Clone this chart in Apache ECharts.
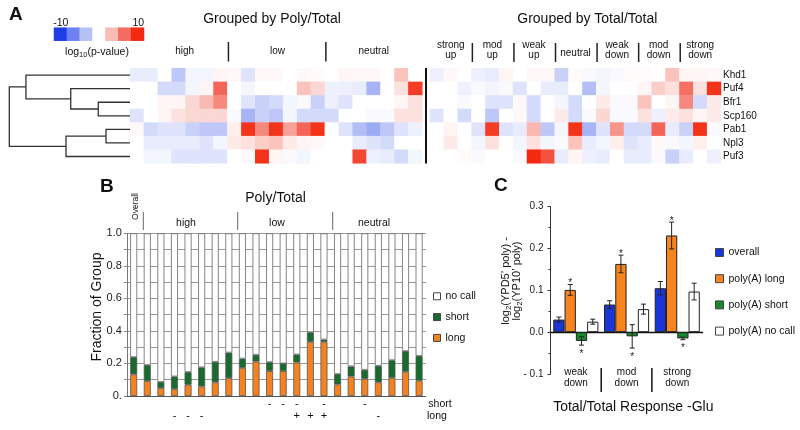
<!DOCTYPE html>
<html>
<head>
<meta charset="utf-8">
<script src="https://cdn.jsdelivr.net/npm/echarts@6/dist/echarts.min.js"></script>
<style>
html,body{margin:0;padding:0;background:#ffffff;}
#chart{width:800px;height:430px;}
</style>
</head>
<body>
<div id="chart"></div>
<script>
// ================= DATA =================
// ---- Panel A: log10(p-value) heatmap ----
const proteins = ['Khd1','Puf4','Bfr1','Scp160','Pab1','Npl3','Puf3'];
const polyGroupLabels = ['high','low','neutral'];
const totalGroupLabels = ['strong\nup','mod\nup','weak\nup','neutral','weak\ndown','mod\ndown','strong\ndown'];
// per protein: 21 "Grouped by Poly/Total" columns, then 21 "Grouped by Total/Total" columns
const khd1   = [-1,-1,0,-3,-0.5,-0.5,0.5,0.3,-1.5,0.3, 0.3,0,0.3,0.2,0,0.5,0.3,0.3,0,3, 0,
                -0.8,0.3,0,-0.8,-1,0.5,0,0.3,0.3,-2.5, 0.2,-0.3,-0.5,-0.3,0.2,0.2,0,3,0.5,0.5, 0.3];
const puf4   = [0,0,-2,-2,-0.5,0.5,7,0,-0.5,0, 0,0,3,2,-0.8,-0.8,-1,-4,0,1.5, 9,
                0,0,-0.8,-0.3,-0.5,-0.3,-1.5,0,-1,-1, 0,-3.5,-0.5,0,0,0.5,2.5,1.5,6.5,1.5, 9.5];
const bfr1   = [0,0,0.5,0.5,2,3.5,5.5,0,-1.5,-2.5, -2,-0.5,-0.3,-2.5,-0.8,-1.5,0,0,0,0.5, 1.5,
                0,0,-0.3,0,-1.5,-1.5,0.3,-2,0,-0.5, -2,0,1,-0.3,-0.3,3,0,0.5,5.5,-2, 1];
const scp160 = [-1.5,0,0.5,1.5,2,2,2,-0.3,-4,-2.5, -3,-0.5,-2,-2,-2,0,0,-0.3,-0.3,1.5, 1.5,
                -1.5,0,-2,0,-3,0,0.3,-2,0,1, -2,-0.3,2,-0.3,-0.3,1.5,-0.8,1,1.5,0.5, 1];
const pab1   = [0.3,-2,-1.5,-1.5,-2.5,-3,-3,0.8,9.5,5.5, 9.5,4.5,7,9.5,0,-1.5,-3.5,-4.5,-3,-1.5, -0.8,
                0,0.5,0,-1.5,9,-1.5,-1,3.5,-3,-0.5, 9.5,-4,-1.5,5,-2,-2,7,-1,-2.5,9.5, -0.3];
const npl3   = [0,-1,-1,-1,-1,-1.5,-0.5,1,1.5,2.5, 3,1,0.5,0.3,0,0,-1,-1.5,-2,0, 0,
                0,1,0,-0.5,1.5,0,-0.5,1.5,-0.5,-0.3, 3,-1,-0.5,0.8,-1.5,-1,0.3,-0.3,-0.5,0.8, 0];
const puf3   = [0,-0.5,-0.5,-1.5,-1.5,-1.5,-1.5,0,-0.3,9.5, 0.5,-0.3,-0.5,0,0,0,8.5,-0.8,-1,-2, -0.5,
                0,0,0.2,-0.3,0,0,-0.3,10,8,-1, 0.5,-0.8,-1,0,-1,-1,-0.3,-2.5,-1,0, -0.8];
const colorSteps = [-10,-6.67,-3.33,0,3.33,6.67,10];
const colorStepLabels = ['-10','10'];
// dendrogram linkage: [childA, childB, height]  (leaves 0..6, merged nodes 7..)
const dendroLinkage = [[2,3,0.263],[1,7,0.491],[0,8,0.862],[4,5,0.199],[10,6,0.53],[9,11,1.0]];

// ---- Panel B: fraction of group ----
const barGroupsB = ['Overall','high 1','high 2','high 3','high 4','high 5','high 6','high 7',
                    'low 1','low 2','low 3','low 4','low 5','low 6','low 7',
                    'neutral 1','neutral 2','neutral 3','neutral 4','neutral 5','neutral 6','neutral 7'];
const longFrac   = [0.133,0.092,0.049,0.043,0.069,0.059,0.084,0.110,0.173,0.212,0.153,0.153,0.206,0.333,0.333,0.071,0.120,0.106,0.084,0.112,0.149,0.094];
const shortFrac  = [0.106,0.098,0.037,0.077,0.078,0.117,0.126,0.157,0.057,0.041,0.055,0.047,0.049,0.059,0.014,0.064,0.062,0.055,0.102,0.108,0.127,0.153];
const noCallFrac = [0.761,0.810,0.914,0.880,0.853,0.824,0.790,0.733,0.770,0.747,0.792,0.800,0.745,0.608,0.653,0.865,0.818,0.839,0.814,0.780,0.724,0.753];
const shortSigns = ['','','','','','','','','','','-','-','-','','-','','','-','','','',''];
const longSigns  = ['','','','-','-','-','','','','','','','+','+','+','','','','-','','',''];
const yTicksB = [0,0.2,0.4,0.6,0.8,1.0];

// ---- Panel C: log2 ratio by Total/Total response ----
const responseGroups = ['weak\ndown','mod\ndown','strong\ndown'];
const overallVal   = [0.030,0.066,0.105];  const overallErr   = [0.006,0.009,0.016];
const polyLongVal  = [0.101,0.163,0.231];  const polyLongErr  = [0.013,0.021,0.032];
const polyShortVal = [-0.021,-0.010,-0.015]; const polyShortErr = [0.010,0.028,0.003];
const polyNoCallVal= [0.025,0.055,0.097];  const polyNoCallErr= [0.006,0.012,0.020];
const overallSig = [0,0,0], polyLongSig = [1,1,1], polyShortSig = [1,1,1], polyNoCallSig = [0,0,0];

// ================= LAYOUT / STYLE =================
const FONT = 'Liberation Sans, Arial, Helvetica, sans-serif';
const HM_TOP = 68.3, HM_H = 95;
const HL = {left:130, width:292.3}, HR = {left:430, width:291};
const GB = {left:126.9, top:233.3, width:299, height:162.7};
const GC = {left:550.5, top:206.6, width:152.1, height:167.4};
const heatColors = ['#1f3de6','#6c82f0','#b7c1f6','#ffffff','#f9bdb6','#f46c5f','#f4290f'];
const cOrangeB = '#f5821f', cGreenB = '#166b2d';
const cBlue = '#1b36d8', cOrange = '#f7841f', cGreen = '#17892b';

const rows = [khd1,puf4,bfr1,scp160,pab1,npl3,puf3];
const cols21 = Array.from({length:21},(_,i)=>String(i));
function hmData(side){
  const out=[];
  rows.forEach((row,r)=>{ for(let c=0;c<21;c++) out.push([c,r,row[side*21+c]]); });
  return out;
}
function dendroItems(){
  const pos = proteins.map((_,i)=>i), hts = proteins.map(()=>0), items=[];
  dendroLinkage.forEach(([a,b,h])=>{
    items.push([h,pos[a],pos[b],hts[a],hts[b]]);
    pos.push((pos[a]+pos[b])/2); hts.push(h);
  });
  return items;
}
const cSeriesDefs = [
  {name:'overall', vals:overallVal, errs:overallErr, sig:overallSig, color:cBlue},
  {name:'poly(A) long', vals:polyLongVal, errs:polyLongErr, sig:polyLongSig, color:cOrange},
  {name:'poly(A) short', vals:polyShortVal, errs:polyShortErr, sig:polyShortSig, color:cGreen},
  {name:'poly(A) no call', vals:polyNoCallVal, errs:polyNoCallErr, sig:polyNoCallSig, color:'#ffffff'}
];
const errData = [];
cSeriesDefs.forEach((s,k)=>s.vals.forEach((v,i)=>errData.push([i,k,v,s.errs[i],s.sig[i]])));

function txt(x,y,text,o){
  o=o||{};
  return {type:'text', x:x, y:y, rotation:o.rot||0, silent:true,
    style:{text:text, fill:o.color||'#111', fontSize:o.size||10, fontFamily:FONT,
      fontWeight:o.weight||'normal', align:o.align||'center', verticalAlign:o.va||'middle',
      lineHeight:o.lh, rich:o.rich}};
}
function ln(x1,y1,x2,y2,c,w){
  return {type:'line', silent:true, shape:{x1,y1,x2,y2}, style:{stroke:c||'#111', lineWidth:w||1}};
}

const graphics = [];
// panel letters
graphics.push(txt(9,5.5,'A',{size:19,weight:'bold',align:'left',va:'top'}));
graphics.push(txt(100,177.5,'B',{size:19,weight:'bold',align:'left',va:'top'}));
graphics.push(txt(494,176.5,'C',{size:19,weight:'bold',align:'left',va:'top'}));
// panel A titles
graphics.push(txt(272,19,'Grouped by Poly/Total',{size:14}));
graphics.push(txt(587.3,19,'Grouped by Total/Total',{size:14}));
// color legend labels
graphics.push(txt(60.8,22.7,colorStepLabels[0],{size:10.5}));
graphics.push(txt(138.3,22.7,colorStepLabels[1],{size:10.5}));
graphics.push(txt(97,52.5,'{a|log}{s|10}{a|(p-value)}',{rich:{
  a:{fontSize:10.5,fontFamily:FONT,fill:'#111'}, s:{fontSize:7.5,fontFamily:FONT,fill:'#111',padding:[5,0,0,0]}}}));
// left heatmap groups
const lcw = HL.width/21;
const polyLabelX = [184.7,277.5,373.8];
polyGroupLabels.forEach((g,i)=>graphics.push(txt(polyLabelX[i],51.7,g,{size:10})));
[1,2].forEach(k=>graphics.push(ln(HL.left+lcw*7*k+1,42,HL.left+lcw*7*k+1,61.5,'#222',1.5)));
// right heatmap groups
const rgw = HR.width/7;
totalGroupLabels.forEach((g,i)=>{
  const two = g.indexOf('\n')>=0;
  graphics.push(txt(HR.left+rgw*(i+0.5), two?50.4:53, g, {size:10, lh:9.5}));
});
for(let k=1;k<7;k++) graphics.push(ln(HR.left+rgw*k+0.8,43,HR.left+rgw*k+0.8,62,'#222',1.5));
// separator between heatmaps
graphics.push(ln(426,68,426,163.5,'#111',2));

// panel B annotations
graphics.push(txt(275.5,198.3,'Poly/Total',{size:14}));
graphics.push(txt(136,206.5,'Overall',{size:8.5,rot:Math.PI/2}));
const bGroupX = [186,277,374];
['high','low','neutral'].forEach((g,i)=>graphics.push(txt(bGroupX[i],223,g,{size:10.5})));
[143.3,237.7,332.7].forEach(x=>graphics.push(ln(x,212,x,230,'#666',1)));
graphics.push(txt(97,307,'Fraction of Group',{size:14,rot:Math.PI/2}));
graphics.push(txt(428.3,403.7,'short',{size:10.5,align:'left'}));
graphics.push(txt(427,416,'long',{size:10.5,align:'left'}));

// panel C annotations
graphics.push(txt(633.3,407,'Total/Total Response -Glu',{size:14}));
const rc = {a:{fontSize:11,fontFamily:FONT,fill:'#111'}, s:{fontSize:8,fontFamily:FONT,fill:'#111',padding:[5,0,0,0]}};
graphics.push(txt(511.7,281,"{a|log}{s|2}{a|(YPD5’ poly) -}\n{a|log}{s|2}{a|(YP10’ poly)}",{rot:Math.PI/2,lh:10.5,rich:rc}));
const ccw = GC.width/3;
[1,2].forEach(k=>graphics.push(ln(GC.left+ccw*k,368,GC.left+ccw*k,392,'#111',1.5)));

// ================= OPTION =================
const chart = echarts.init(document.getElementById('chart'), null, {renderer:'canvas', width:800, height:430});
const noBounds = {outerBoundsMode:'none'};
const option = {
  animation:false,
  backgroundColor:'#ffffff',
  textStyle:{fontFamily:FONT},
  grid:[
    Object.assign({left:HL.left, top:HM_TOP, width:HL.width, height:HM_H}, noBounds),
    Object.assign({left:HR.left, top:HM_TOP, width:HR.width, height:HM_H}, noBounds),
    Object.assign({left:9.3, top:HM_TOP, width:120.7, height:HM_H}, noBounds),
    Object.assign({left:54, top:27.7, width:90, height:13}, noBounds),
    Object.assign({left:GB.left, top:GB.top, width:GB.width, height:GB.height}, noBounds),
    Object.assign({left:GC.left, top:GC.top, width:GC.width, height:GC.height}, noBounds)
  ],
  visualMap:{type:'continuous', show:false, min:-10, max:10, dimension:2, seriesIndex:[0,1,2],
    inRange:{color:heatColors}},
  legend:[
    {data:[{name:'no call'},{name:'short'},{name:'long'}], orient:'vertical', left:433, top:290.8,
     itemWidth:7, itemHeight:7, itemGap:9.8, padding:0, icon:'rect', selectedMode:false,
     itemStyle:{borderColor:'#444', borderWidth:1},
     textStyle:{fontSize:10.5, color:'#111', fontFamily:FONT}},
    {data:cSeriesDefs.map(s=>({name:s.name})), orient:'vertical', left:715, top:247,
     itemWidth:8, itemHeight:8, itemGap:15.2, padding:0, icon:'rect', selectedMode:false,
     itemStyle:{borderColor:'#444', borderWidth:1},
     textStyle:{fontSize:10.5, color:'#111', fontFamily:FONT}}
  ],
  xAxis:[
    {gridIndex:0, type:'category', data:cols21, show:false},
    {gridIndex:1, type:'category', data:cols21, show:false},
    {gridIndex:2, type:'value', min:0, max:1, inverse:true, show:false},
    {gridIndex:3, type:'category', data:colorSteps.map(String), show:false},
    {gridIndex:4, type:'category', data:barGroupsB, axisLine:{lineStyle:{color:'#555'}},
     axisTick:{show:false}, axisLabel:{show:false}},
    {gridIndex:4, type:'category', data:barGroupsB, position:'bottom',
     axisLine:{show:false,onZero:false}, axisTick:{show:false},
     axisLabel:{interval:0, formatter:(v,i)=>shortSigns[i], margin:8, verticalAlign:'middle', fontSize:11, color:'#111'}},
    {gridIndex:4, type:'category', data:barGroupsB, position:'bottom',
     axisLine:{show:false,onZero:false}, axisTick:{show:false},
     axisLabel:{interval:0, formatter:(v,i)=>longSigns[i], margin:20, verticalAlign:'middle', fontSize:11, color:'#111'}},
    {gridIndex:5, type:'category', data:responseGroups,
     axisLine:{onZero:true, lineStyle:{color:'#111', width:1.3}}, axisTick:{show:false}, axisLabel:{show:false}},
    {gridIndex:5, type:'category', data:responseGroups, position:'bottom', offset:-7,
     axisLine:{show:false,onZero:false}, axisTick:{show:false},
     axisLabel:{margin:0, fontSize:10, lineHeight:10.5, color:'#111', interval:0}}
  ],
  yAxis:[
    {gridIndex:0, type:'category', data:proteins, inverse:true, show:false},
    {gridIndex:1, type:'category', data:proteins, inverse:true, position:'right',
     axisLine:{show:false}, axisTick:{show:false}, axisLabel:{margin:2, fontSize:10, color:'#111'}},
    {gridIndex:2, type:'value', min:-0.5, max:6.5, inverse:true, show:false},
    {gridIndex:3, type:'category', data:['scale'], show:false},
    {gridIndex:4, type:'value', min:0, max:1, interval:0.1,
     axisLine:{show:true, lineStyle:{color:'#777'}},
     axisTick:{show:true, length:3, lineStyle:{color:'#888'}},
     splitLine:{show:true, lineStyle:{color:'#9a9a9a', width:1}},
     axisLabel:{fontSize:11, color:'#222', margin:5, formatter:v=>{
       const r=Math.round(v*10); if(r===0) return '0.';
       return yTicksB.some(t=>Math.abs(t-v)<1e-6) ? (r/10).toFixed(1) : '';}}},
    {gridIndex:5, type:'value', min:-0.1, max:0.3, interval:0.1,
     axisLine:{show:true, lineStyle:{color:'#333'}},
     axisTick:{show:true, length:3, lineStyle:{color:'#333'}},
     minorTick:{show:true, splitNumber:2, length:2, lineStyle:{color:'#333'}},
     splitLine:{show:false},
     axisLabel:{fontSize:10, color:'#222', margin:7, formatter:v=>{
       const r=Math.round(v*10)/10; return r<0 ? '- '+Math.abs(r).toFixed(1) : r.toFixed(1);}}}
  ],
  series:[
    {type:'heatmap', xAxisIndex:0, yAxisIndex:0, data:hmData(0), emphasis:{disabled:true}, progressive:0},
    {type:'heatmap', xAxisIndex:1, yAxisIndex:1, data:hmData(1), emphasis:{disabled:true}, progressive:0},
    {type:'heatmap', xAxisIndex:3, yAxisIndex:3, data:colorSteps.map((v,i)=>[i,0,v]), emphasis:{disabled:true}},
    {type:'custom', xAxisIndex:2, yAxisIndex:2, data:dendroItems(), silent:true, clip:false,
     encode:{x:0, y:1},
     renderItem:(params,api)=>{
       const h=api.value(0), yA=api.value(1), yB=api.value(2), hA=api.value(3), hB=api.value(4);
       const pts=[api.coord([hA,yA]),api.coord([h,yA]),api.coord([h,yB]),api.coord([hB,yB])];
       return {type:'polyline', shape:{points:pts}, style:{stroke:'#333', lineWidth:1.3, fill:null}};
     }},
    {name:'long', type:'bar', xAxisIndex:4, yAxisIndex:4, stack:'frac', data:longFrac, barWidth:7,
     itemStyle:{color:cOrangeB, borderColor:'#555', borderWidth:0.8}, emphasis:{disabled:true}},
    {name:'short', type:'bar', xAxisIndex:4, yAxisIndex:4, stack:'frac', data:shortFrac, barWidth:7,
     itemStyle:{color:cGreenB, borderColor:'#555', borderWidth:0.8}, emphasis:{disabled:true}},
    {name:'no call', type:'bar', xAxisIndex:4, yAxisIndex:4, stack:'frac', data:noCallFrac, barWidth:7,
     itemStyle:{color:'#ffffff', borderColor:'#666', borderWidth:0.8}, emphasis:{disabled:true}},
  ].concat(cSeriesDefs.map(s=>({
    name:s.name, type:'bar', xAxisIndex:7, yAxisIndex:5, data:s.vals, barGap:'0%', barCategoryGap:'11%',
    itemStyle:{color:s.color, borderColor:'#222', borderWidth:1}, emphasis:{disabled:true}
  }))).concat([
    {type:'custom', xAxisIndex:7, yAxisIndex:5, data:errData, silent:true, clip:false, z:5,
     encode:{x:0, y:2},
     renderItem:(params,api)=>{
       const cat=api.value(0), k=api.value(1), v=api.value(2), e=api.value(3), sig=api.value(4);
       const bw=api.size([1,0])[0]*0.89/4;
       const cx=api.coord([cat,0])[0]+(k-1.5)*bw;
       const yt=api.coord([cat,v+e])[1], yb=api.coord([cat,v-e])[1];
       const st={stroke:'#222', lineWidth:1};
       const ch=[
         {type:'line', shape:{x1:cx,y1:yt,x2:cx,y2:yb}, style:st},
         {type:'line', shape:{x1:cx-2.5,y1:yt,x2:cx+2.5,y2:yt}, style:st},
         {type:'line', shape:{x1:cx-2.5,y1:yb,x2:cx+2.5,y2:yb}, style:st}
       ];
       if(sig){
         ch.push({type:'text', style:{text:'*', x:cx, y: v>0 ? yt-1 : yb+9, fill:'#222',
           fontSize:10, fontFamily:FONT, align:'center', verticalAlign:'middle'}});
       }
       return {type:'group', children:ch};
     }}
  ]),
  graphic:graphics
};
chart.setOption(option);
</script>
</body>
</html>
